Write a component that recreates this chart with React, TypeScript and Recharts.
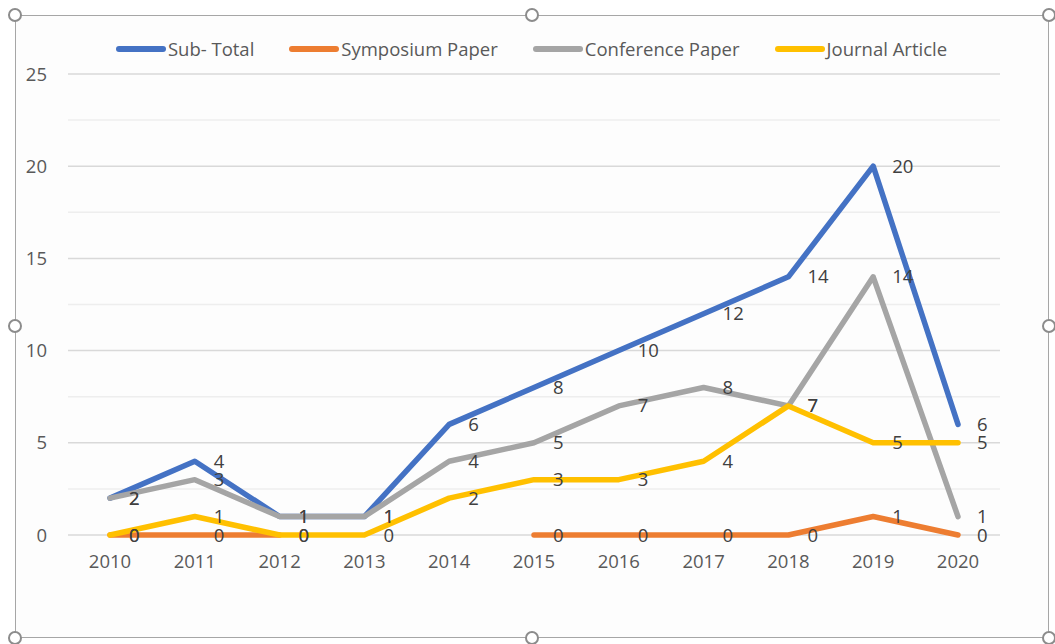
import React from "react";
import {
  LineChart,
  Line,
  XAxis,
  YAxis,
  CartesianGrid,
  ReferenceLine,
  Legend,
  LabelList,
} from "recharts";

const years = ["2010", "2011", "2012", "2013", "2014", "2015", "2016", "2017", "2018", "2019", "2020"];
const subTotal = [2, 4, 1, 1, 6, 8, 10, 12, 14, 20, 6];
const symposiumPaper: (number | null)[] = [0, 0, 0, null, null, 0, 0, 0, 0, 1, 0];
const conferencePaper = [2, 3, 1, 1, 4, 5, 7, 8, 7, 14, 1];
const journalArticle = [0, 1, 0, 0, 2, 3, 3, 4, 7, 5, 5];

const yTicks = [0, 5, 10, 15, 20, 25];
const yMinorLines = [2.5, 7.5, 12.5, 17.5, 22.5];

const seriesNames = ["Sub- Total", "Symposium Paper", "Conference Paper", "Journal Article"];
const seriesColors = ["#4472C4", "#ED7D31", "#A5A5A5", "#FFC000"];
const seriesKeys = ["subTotal", "symposium", "conference", "journal"];

const data = years.map((y, i) => ({
  year: y,
  subTotal: subTotal[i],
  symposium: symposiumPaper[i],
  conference: conferencePaper[i],
  journal: journalArticle[i],
}));

const FONT = "'Open Sans', 'Noto Sans', sans-serif";

const LegendContent = (props: any) => {
  const payload = [...(props.payload || [])].sort(
    (a: any, b: any) => seriesNames.indexOf(a.value) - seriesNames.indexOf(b.value)
  );
  return (
    <div
      style={{
        display: "flex",
        justifyContent: "center",
        alignItems: "center",
        gap: 35,
        fontFamily: FONT,
        fontSize: 18.5,
        color: "#595959",
        paddingLeft: 8,
      }}
    >
      {payload.map((p: any) => (
        <div key={p.value} style={{ display: "flex", alignItems: "center" }}>
          <div
            style={{
              width: 50,
              height: 5.5,
              borderRadius: 3,
              background: p.color,
              marginRight: 2,
            }}
          />
          <span style={{ lineHeight: "26px" }}>{p.value}</span>
        </div>
      ))}
    </div>
  );
};

const handlePositions = [
  [15, 15],
  [532, 15],
  [1049, 15],
  [15, 326],
  [1049, 326],
  [15, 638],
  [532, 638],
  [1049, 638],
];

export default function App() {
  return (
    <div style={{ position: "absolute", left: 0, top: 0, width: 1055, height: 644, background: "#ffffff", overflow: "hidden" }}>
      <div
        style={{
          position: "absolute",
          left: 15,
          top: 15,
          width: 1034,
          height: 623,
          border: "1.5px solid #a6a6a6",
          boxSizing: "border-box",
          background: "#fdfdfd",
        }}
      />
      <div style={{ position: "absolute", left: 0, top: 0 }}>
        <LineChart
          width={1055}
          height={644}
          data={data}
          margin={{ top: 74, right: 55, bottom: 79, left: 8 }}
        >
          <CartesianGrid vertical={false} stroke="#d9d9d9" strokeWidth={1.5} />
          {yMinorLines.map((v) => (
            <ReferenceLine key={v} y={v} stroke="#eeeeee" strokeWidth={1.5} ifOverflow="extendDomain" />
          ))}
          <XAxis
            dataKey="year"
            tickLine={false}
            axisLine={false}
            tick={{ fill: "#595959", fontSize: 18.5, fontFamily: FONT }}
            tickMargin={14}
            height={30}
            interval={0}
            padding={{ left: 42, right: 42 }}
          />
          <YAxis
            domain={[0, 25]}
            ticks={yTicks}
            tickLine={false}
            axisLine={false}
            tick={{ fill: "#595959", fontSize: 18.5, fontFamily: FONT }}
            tickMargin={15}
            width={60}
            interval={0}
          />
          <Legend
            layout="horizontal"
            verticalAlign="middle"
            align="center"
            itemSorter={null as any}
            content={<LegendContent />}
            wrapperStyle={{ top: 36, left: 0, width: 1055 }}
          />
          {seriesKeys.map((k, i) => (
            <Line
              key={k}
              type="linear"
              dataKey={k}
              name={seriesNames[i]}
              stroke={seriesColors[i]}
              strokeWidth={5.5}
              strokeLinecap="round"
              strokeLinejoin="round"
              dot={false}
              activeDot={false}
              isAnimationActive={false}
              connectNulls={false}
            >
              <LabelList
                dataKey={k}
                position="right"
                offset={19}
                fill="#404040"
                fontSize={18.5}
                fontFamily={FONT}
              />
            </Line>
          ))}
        </LineChart>
      </div>
      {handlePositions.map(([x, y], i) => (
        <div
          key={i}
          style={{
            position: "absolute",
            left: x - 7,
            top: y - 7,
            width: 14,
            height: 14,
            borderRadius: "50%",
            border: "2px solid #8c8c8c",
            background: "#ffffff",
            boxSizing: "border-box",
          }}
        />
      ))}
    </div>
  );
}
